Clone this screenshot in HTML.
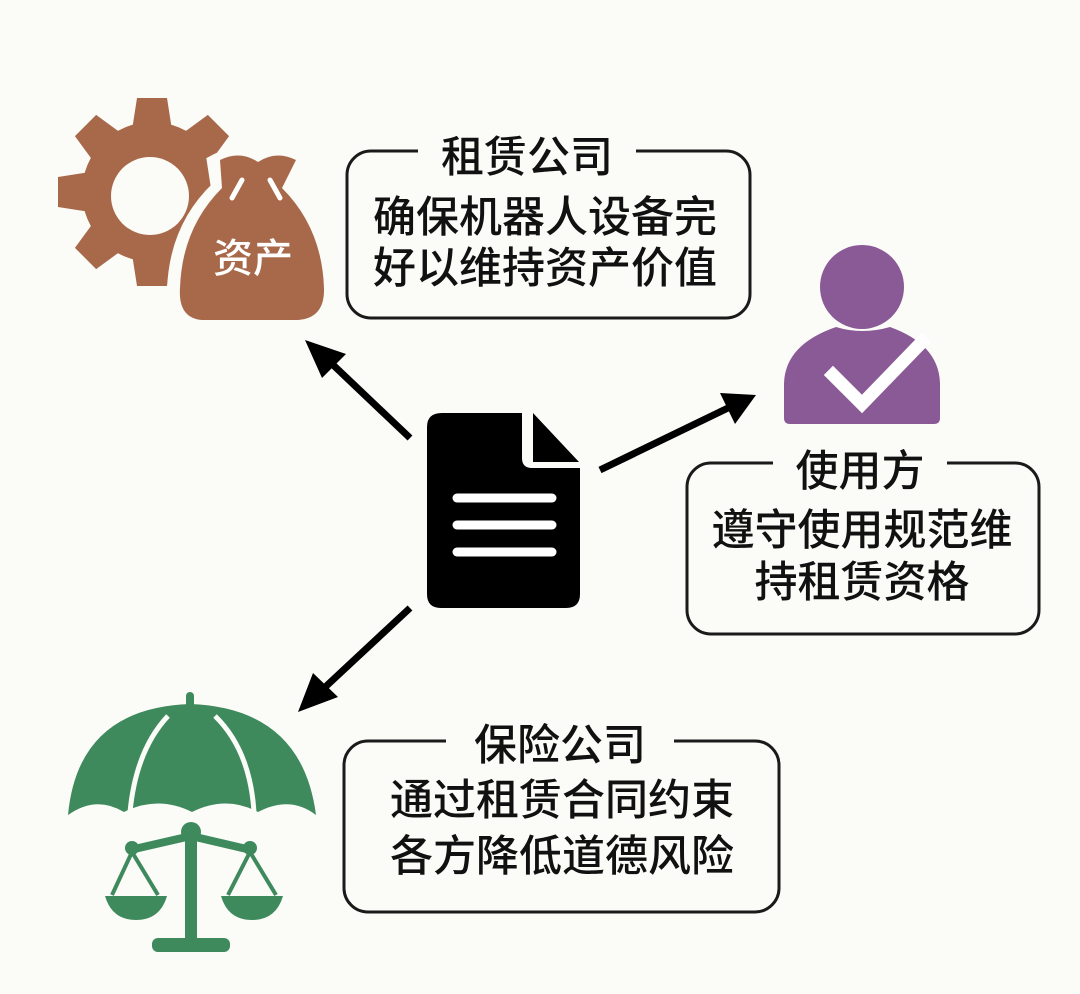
<!DOCTYPE html>
<html><head><meta charset="utf-8">
<style>
html,body{margin:0;padding:0;background:#fbfbf8;}
svg{display:block}
text{font-family:"Liberation Sans","Noto Sans CJK SC",sans-serif;font-weight:500;fill:#111;}
</style></head><body>
<svg width="1080" height="994" viewBox="0 0 1080 994" xmlns="http://www.w3.org/2000/svg">
<rect width="1080" height="994" fill="#fbfbf8"/>
<g fill="none" stroke="#1a1a1a" stroke-width="3">
<rect x="347" y="151" width="403" height="167" rx="24"/>
<rect x="687" y="463" width="352" height="171" rx="24"/>
<rect x="344" y="741" width="435" height="171" rx="24"/>
</g>
<rect x="418" y="140" width="218" height="24" fill="#fbfbf8"/>
<rect x="773" y="452" width="174" height="24" fill="#fbfbf8"/>
<rect x="446" y="730" width="228" height="24" fill="#fbfbf8"/>
<g font-size="43" text-anchor="middle">
<text x="527" y="172">租赁公司</text>
<text x="545" y="232">确保机器人设备完</text>
<text x="545" y="283">好以维持资产价值</text>
<text x="860" y="486">使用方</text>
<text x="862" y="545">遵守使用规范维</text>
<text x="862" y="597">持租赁资格</text>
<text x="560" y="760">保险公司</text>
<text x="562" y="815">通过租赁合同约束</text>
<text x="562" y="871">各方降低道德风险</text>
</g>
<path d="M442 413 H522 V458 Q522 468 532 468 H580 V594 Q580 608 566 608 H441 Q427 608 427 594 V427 Q427 413 442 413 Z" fill="#000"/>
<path d="M533 413 L579 462 H533 Z" fill="#000"/>
<g stroke="#fff" stroke-width="9" stroke-linecap="round">
<line x1="457" y1="498" x2="552" y2="498"/>
<line x1="457" y1="525" x2="552" y2="525"/>
<line x1="457" y1="552" x2="552" y2="552"/>
</g>
<g stroke="#000" stroke-width="7">
<line x1="410" y1="438" x2="330" y2="362"/>
<line x1="600" y1="470" x2="728" y2="408"/>
<line x1="410" y1="608" x2="322" y2="690"/>
</g>
<path d="M305 340 L346 354 L322 378 Z" fill="#000"/>
<path d="M756 395 L735 424 L720 393 Z" fill="#000"/>
<path d="M298 712 L313 673 L338 697 Z" fill="#000"/>
<g fill="#a8694a">
<g transform="translate(152,192)">
<circle r="70"/>
<path id="t" d="M-20 -62 L-15 -94 H15 L20 -62 Z"/>
<use href="#t" transform="rotate(45)"/>
<use href="#t" transform="rotate(90)"/>
<use href="#t" transform="rotate(135)"/>
<use href="#t" transform="rotate(180)"/>
<use href="#t" transform="rotate(225)"/>
<use href="#t" transform="rotate(270)"/>
<use href="#t" transform="rotate(315)"/>
</g>
</g>
<circle cx="150" cy="196" r="39" fill="#fbfbf8"/>
<path d="M214 162 Q240 148 258 160 Q276 148 300 158 L284 188 Q326 228 328 290 Q330 322 300 324 H200 Q172 322 174 290 Q176 228 218 188 Z" fill="#fbfbf8" stroke="#fbfbf8" stroke-width="14"/>
<path d="M220 160 Q240 150 258 162 Q276 150 296 160 L282 188 Q322 228 324 288 Q325 318 298 320 H202 Q178 318 180 288 Q182 228 222 188 Z" fill="#a8694a"/>
<path d="M232 198 L242 180 M270 180 L280 198" stroke="#fff" stroke-width="5" stroke-linecap="round"/>
<text x="253" y="272" font-size="40" text-anchor="middle" style="fill:#fff">资产</text>
<g fill="#8a5a96">
<circle cx="862" cy="287" r="42"/>
<path d="M836 327 Q862 335 890 327 Q940 345 940 385 V418 Q940 424 934 424 H790 Q784 424 784 418 V385 Q784 345 836 327 Z"/>
</g>
<path d="M833 375 L862 404 L922 342" fill="none" stroke="#fff" stroke-width="13" stroke-linecap="square"/>
<g fill="#3f8a5d">
<rect x="186" y="692" width="8" height="22" rx="4"/>
<path d="M68 815 Q78 708 190 704 Q302 708 316 815 Q290 795 258 812 Q226 795 192 812 Q158 795 124 812 Q96 795 68 815 Z"/>
<circle cx="191" cy="832" r="10"/>
<rect x="185" y="830" width="12" height="112"/>
<path d="M130 850 L191 836 L251 850" fill="none" stroke="#3f8a5d" stroke-width="8" stroke-linejoin="round"/>
<circle cx="132" cy="848" r="7"/>
<circle cx="250" cy="848" r="7"/>
<path d="M105 896 H167 Q160 920 136 920 Q112 920 105 896 Z"/>
<path d="M221 896 H283 Q276 920 252 920 Q228 920 221 896 Z"/>
<rect x="152" y="938" width="78" height="14" rx="6"/>
</g>
<g stroke="#3f8a5d" stroke-width="4" fill="none">
<path d="M112 895 L132 852 L158 895"/>
<path d="M228 895 L250 852 L276 895"/>
</g>
<g stroke="#fbfbf8" stroke-width="5" fill="none">
<path d="M168 716 Q136 750 130 812"/>
<path d="M215 716 Q250 750 254 812"/>
</g>
</svg>
</body></html>
